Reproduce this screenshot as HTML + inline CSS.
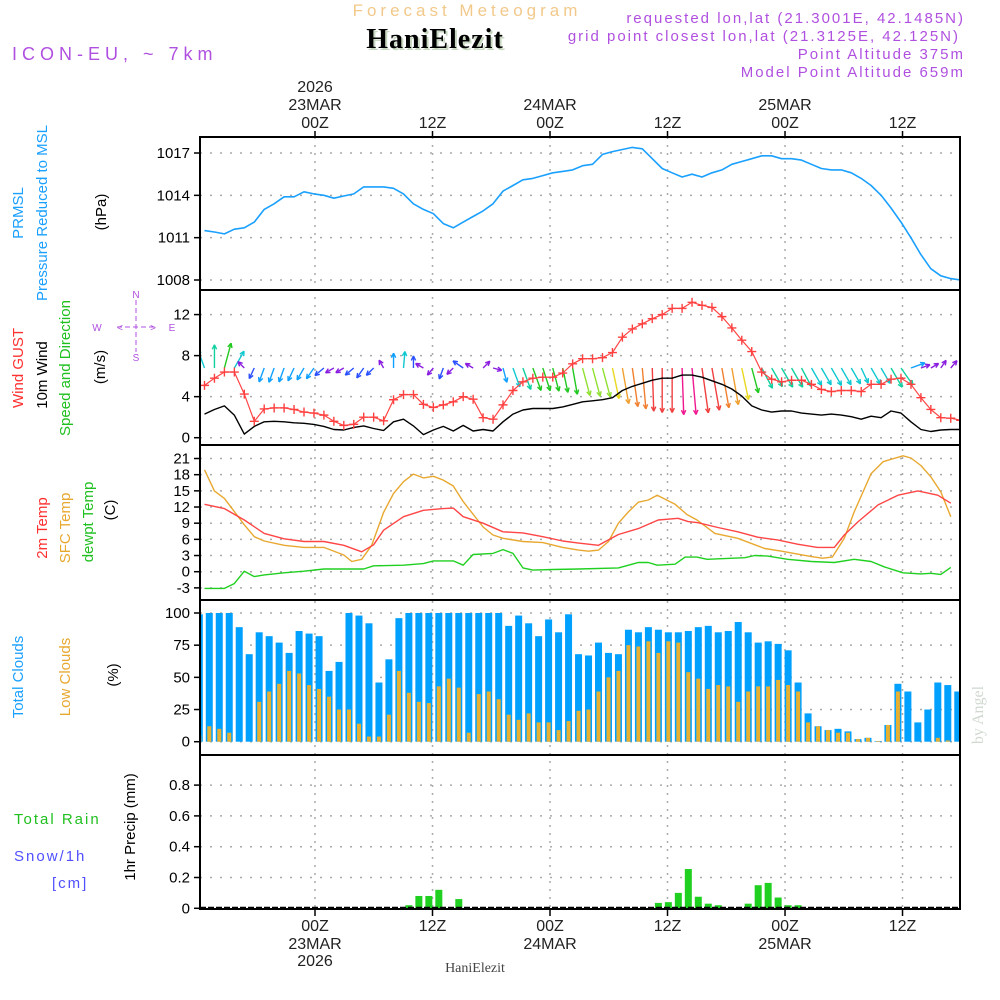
<!DOCTYPE html>
<html><head><meta charset="utf-8"><style>
html,body{margin:0;padding:0;background:#fff;}
svg{display:block;font-family:"Liberation Sans",sans-serif;}
</style></head><body>
<svg id="chart" width="1000" height="1000" viewBox="0 0 1000 1000" xmlns="http://www.w3.org/2000/svg">
<rect x="0" y="0" width="1000" height="1000" fill="#fff"/>
<text x="467" y="16" text-anchor="middle" font-size="17" fill="#f2c98a" letter-spacing="4">Forecast Meteogram</text>
<text x="437" y="50" text-anchor="middle" font-family="Liberation Serif,serif" font-weight="bold" font-size="28" fill="#c8d8c0" letter-spacing="1">HaniElezit</text>
<text x="435" y="48" text-anchor="middle" font-family="Liberation Serif,serif" font-weight="bold" font-size="28" fill="#000" letter-spacing="1">HaniElezit</text>
<g fill="#b050e0" font-size="15" text-anchor="end" letter-spacing="2">
<text x="965" y="23">requested lon,lat (21.3001E, 42.1485N)</text>
<text x="960" y="41">grid point closest lon,lat (21.3125E, 42.125N)</text>
<text x="965" y="59">Point Altitude 375m</text>
<text x="965" y="77">Model Point Altitude 659m</text>
</g>
<text x="12" y="60" font-size="18" fill="#b050e0" letter-spacing="5">ICON-EU, ~ 7km</text>
<text transform="translate(983,715) rotate(-90)" text-anchor="middle" font-family="Liberation Serif,serif" font-size="16" fill="#d0d8d0">by Angel</text>
<text x="475" y="972" text-anchor="middle" font-family="Liberation Serif,serif" font-size="14" fill="#444">HaniElezit</text>

<g id="grid"></g>
<g id="marks"></g>
<g id="axes"></g>

<g font-size="15">
<text transform="translate(23,213) rotate(-90)" text-anchor="middle" fill="#1aa0ff">PRMSL</text>
<text transform="translate(47,213) rotate(-90)" text-anchor="middle" fill="#1aa0ff">Pressure Reduced to MSL</text>
<text transform="translate(106,212) rotate(-90)" text-anchor="middle" fill="#000">(hPa)</text>
<text transform="translate(23,368) rotate(-90)" text-anchor="middle" fill="#ff3030">Wind GUST</text>
<text transform="translate(47,375) rotate(-90)" text-anchor="middle" fill="#000">10m Wind</text>
<text transform="translate(70,368) rotate(-90)" text-anchor="middle" fill="#20c020">Speed and Direction</text>
<text transform="translate(105,367) rotate(-90)" text-anchor="middle" fill="#000">(m/s)</text>
<text transform="translate(47,528) rotate(-90)" text-anchor="middle" fill="#ff3030">2m Temp</text>
<text transform="translate(70,528) rotate(-90)" text-anchor="middle" fill="#e8a830">SFC Temp</text>
<text transform="translate(93,522) rotate(-90)" text-anchor="middle" fill="#20c020">dewpt Temp</text>
<text transform="translate(115,510) rotate(-90)" text-anchor="middle" fill="#000">(C)</text>
<text transform="translate(23,677) rotate(-90)" text-anchor="middle" fill="#1aa0ff">Total Clouds</text>
<text transform="translate(70,677) rotate(-90)" text-anchor="middle" fill="#e8a830">Low Clouds</text>
<text transform="translate(118,675) rotate(-90)" text-anchor="middle" fill="#000">(%)</text>
<text transform="translate(135,827) rotate(-90)" text-anchor="middle" fill="#000">1hr Precip (mm)</text>
<text x="14" y="824" fill="#20c020" letter-spacing="2">Total   Rain</text>
<text x="14" y="861" fill="#5050ff" letter-spacing="2">Snow/1h</text>
<text x="52" y="888" fill="#5050ff" letter-spacing="2">[cm]</text>
</g>
<g fill="#b050e0" stroke="#b050e0" font-size="10">
<line x1="117" y1="327" x2="155" y2="327" stroke-width="1" stroke-dasharray="5 3"/>
<line x1="136" y1="300" x2="136" y2="352" stroke-width="1" stroke-dasharray="5 3"/>
<text stroke="none" x="136" y="298" text-anchor="middle">N</text>
<text stroke="none" x="136" y="361" text-anchor="middle">S</text>
<text stroke="none" x="97" y="331" text-anchor="middle">W</text>
<text stroke="none" x="172" y="331" text-anchor="middle">E</text>
<text stroke="none" x="120" y="331" text-anchor="middle">&lt;</text>
<text stroke="none" x="153" y="331" text-anchor="middle">&gt;</text>
</g>
</svg>
<script>
// ---------- data ----------
const pressure = [1011.5,1011.4,1011.27,1011.6,1011.7,1012.1,1013.0,1013.4,1013.9,1013.9,1014.25,1014.1,1014.0,1013.8,1013.95,1014.1,1014.6,1014.6,1014.6,1014.5,1014.1,1013.4,1013.0,1012.7,1012.0,1011.7,1012.1,1012.5,1012.9,1013.4,1014.3,1014.7,1015.1,1015.2,1015.4,1015.6,1015.7,1015.8,1016.1,1016.2,1016.9,1017.1,1017.25,1017.4,1017.3,1016.6,1015.9,1015.6,1015.3,1015.5,1015.3,1015.6,1015.8,1016.2,1016.4,1016.6,1016.8,1016.8,1016.6,1016.6,1016.5,1016.2,1015.9,1015.8,1015.8,1015.6,1015.2,1014.7,1014.0,1013.1,1012.1,1011.0,1009.8,1008.8,1008.3,1008.1,1008.0];
const gust = [5.1,5.8,6.4,6.4,4.25,1.6,2.8,2.9,2.9,2.75,2.5,2.4,2.2,1.6,1.2,1.3,2.0,2.0,1.65,3.7,4.2,4.2,3.25,2.95,3.2,3.5,4.0,3.75,1.95,1.8,3.2,4.6,5.45,5.8,5.9,5.9,6.3,7.2,7.7,7.7,7.8,8.3,9.8,10.6,11.1,11.6,12.0,12.6,12.6,13.2,12.9,12.7,11.8,10.7,9.5,8.4,6.4,5.7,5.45,5.6,5.6,5.2,4.7,4.5,4.6,4.6,4.5,5.2,5.2,5.7,5.8,5.2,3.9,2.75,1.95,1.9,1.7];
const wind10m = [2.3,2.75,3.1,2.2,0.35,1.1,1.55,1.6,1.55,1.45,1.4,1.3,1.1,0.8,0.75,1.0,1.15,0.9,0.7,1.55,1.8,1.15,0.3,0.75,1.1,0.65,1.2,0.65,0.8,0.65,1.55,2.3,2.7,2.85,2.85,2.85,3.0,3.25,3.5,3.6,3.7,3.9,4.6,5.0,5.3,5.6,5.8,5.8,6.1,6.1,5.9,5.55,5.2,4.75,4.05,3.1,2.7,2.5,2.6,2.6,2.4,2.3,2.2,2.3,2.2,2.05,1.8,2.1,1.95,2.6,2.4,1.55,0.8,0.6,0.75,0.8,0.8];
const windDir = [340,0,15,30,315,205,200,200,200,205,210,215,230,240,240,230,215,225,330,0,5,0,300,220,200,225,305,300,45,105,165,160,160,160,162,165,168,170,165,165,165,168,170,172,175,178,180,180,178,175,172,170,170,170,168,165,152,150,150,150,152,150,150,150,150,150,155,150,150,150,145,70,70,60,35,40,130];
const t2mHours = [0,2,4,6,8,10,12,14,15.8,17,18,20,22,24,25,26,28,30,32,34,36,37.6,39.6,41.6,43.6,45.6,47.6,48.6,49.6,51.6,53.6,55.6,57.6,59.6,61.6,63.3,64.3,65.7,67.7,69.7,71.7,73.7,75];
const t2m = [12.5,11.7,9.6,7.1,6.1,5.6,5.6,4.9,3.7,5.0,7.7,10.2,11.4,11.7,11.8,10.2,9.0,7.4,7.2,6.5,5.7,5.3,4.9,6.9,8.0,9.6,9.9,9.3,9.1,8.2,7.4,6.4,5.9,5.1,4.5,4.5,6.8,9.3,12.4,14.2,15.0,14.2,12.7];
const sfcHours = [0,1,2,4,5,6,8,10,12,14,14.8,15.8,16.8,18,19,20,21,22,23,24,25,26,28,29,30,32,34,36,37.6,38.6,39.6,40.6,41.6,42.6,43.6,44.6,45.5,47.3,48.5,49.5,51.3,53.6,56.3,58,61,62.1,63.1,64.3,65.3,67,68.2,70.2,71,72,73,74,75];
const sfcTemp = [18.9,15,13.6,8.7,6.5,5.7,4.9,4.5,4.5,3.1,1.9,2.3,4.9,11,14.5,16.7,18.1,17.4,17.7,17.0,15.9,13.0,8.3,6.8,6.2,5.6,5.4,4.5,4.0,3.8,4.0,5.6,9.0,11.1,12.9,13.3,14.2,12.5,10.6,9.6,7.1,6.2,4.3,3.8,2.8,2.5,2.7,6.2,11.1,18.2,20.4,21.5,21.1,19.7,17.6,14.8,10.2];
const dewHours = [0,2,3,4,5,6,8,10,12,16,17,20,22,23,25,26,27,29,30,31,32,33,35,37.6,41.6,43.6,44.6,45.5,47.3,48.3,49.5,50.5,54.3,55.3,56.6,58.6,61,63.3,65.3,67,68.3,70.2,72,73,74,75];
const dewpt = [-3.1,-3.1,-2.2,0.1,-0.9,-0.6,-0.2,0.1,0.5,0.5,1.1,1.2,1.5,2.0,2.0,1.2,3.2,3.4,4.1,3.4,0.7,0.3,0.4,0.5,0.7,1.7,1.7,1.2,1.4,2.7,2.7,2.3,2.6,3.0,2.9,2.3,1.9,1.7,2.3,1.9,0.9,-0.2,-0.4,-0.3,-0.5,0.8];
const totalClouds = [99,100,100,100,89,68,85,82,77,69,86,84,82,55,62,100,98,92,46,64,96,100,100,100,100,100,100,100,100,100,100,90,98,92,82,95,85,99,68,67,77,69,68,87,85,89,87,85,85,86,89,90,85,86,93,85,77,78,76,71,46,22,12,9,10,8,2,3,0.5,13,45,39,15,25,46,44,39];
const lowClouds = [5,12,10,7,0,0,31,39,45,55,53,44,41,35,25,25,14,4,4,21,55,38,31,30,43,49,42,7,37,39,33,21,17,22,15,15,9,16,24,25,39,50,55,75,74,78,69,78,77,54,49,41,44,43,31,39,43,43,48,44,39,15,12,9,7,7,2,3,0.5,13,39,0,0,0,3,1,0];
const precip = [0,0,0,0,0,0,0,0,0,0,0,0,0,0,0,0,0,0,0,0,0,0.02,0.08,0.08,0.12,0,0.06,0,0,0,0,0,0,0,0,0,0,0,0,0,0,0,0,0,0,0,0.035,0.04,0.10,0.255,0.075,0.03,0.02,0,0,0.03,0.15,0.165,0.07,0.02,0.02,0,0,0,0,0,0,0,0,0,0,0,0,0,0,0,0];
const timeTickHours = [0,12,24,36,48,60];
const timeTickLabels = ["00Z","12Z","00Z","12Z","00Z","12Z"];
const dateLabels = ["23MAR","","24MAR","","25MAR",""];
const pressTicks = [1008,1011,1014,1017];
const windTicks = [0,4,8,12];
const tempTicks = [-3,0,3,6,9,12,15,18,21];
const cloudTicks = [0,25,50,75,100];
const precipTicks = [0,0.2,0.4,0.6,0.8];
const precipTickLabels = ["0","0.2","0.4","0.6","0.8"];

// ---------- scales ----------
const L=200,R=960;
const xt = k => 204.5 + 9.95*k;
const xb = i => 199.3 + 9.98*i;
const xg = h => 315 + h*9.792;
const yP = p => 280 - (p-1008)*14.11;
const yW = v => 437.7 - v*10.26;
const yT = t => 571.7 - t*5.39;
const yC = c => 741.7 - c*1.287;
const yR = r => 908.3 - r*154;
const panels=[[137,290],[290,445],[445,600],[600,755],[755,909]];
const NS="http://www.w3.org/2000/svg";
const grid=document.getElementById('grid'), marks=document.getElementById('marks'), axes=document.getElementById('axes');
function mk(tag, attrs, parent){const e=document.createElementNS(NS,tag);for(const k in attrs)e.setAttribute(k,attrs[k]);parent.appendChild(e);return e;}

const defs=mk('defs',{},document.getElementById('chart'));
const cp=mk('clipPath',{id:'plotclip'},defs);
mk('rect',{x:L,y:137,width:R-L,height:772},cp);
marks.setAttribute('clip-path','url(#plotclip)');

// ---------- grid ----------
timeTickHours.forEach(h=>{
  const l=mk('line',{x1:xg(h),x2:xg(h),y1:137,y2:909,stroke:'#aaa','stroke-width':1.5,'stroke-dasharray':'2 6'},grid);
  
  
});
function hgrid(ticks, yf, name){
  ticks.forEach(v=>{
    const l=mk('line',{x1:L,x2:R,y1:yf(v),y2:yf(v),stroke:'#aaa','stroke-width':1.5,'stroke-dasharray':'2 8'},grid);
    
    
  });
}
hgrid(pressTicks,yP,'pressure-gridline');
hgrid(windTicks,yW,'wind-gridline');
hgrid(tempTicks,yT,'temp-gridline');
hgrid(cloudTicks,yC,'cloud-gridline');
hgrid(precipTicks.slice(1),yR,'precip-gridline');

// ---------- marks ----------
function poly(xs, ys, color, width, name){
  const pts=xs.map((x,i)=>x.toFixed(1)+','+ys[i].toFixed(1)).join(' ');
  const p=mk('polyline',{points:pts,fill:'none',stroke:color,'stroke-width':width,'stroke-linejoin':'round'},marks);
  
  
  return p;
}
poly(pressure.map((v,k)=>xt(k)), pressure.map(yP), '#1aa0ff', 1.6, 'pressure-line');

function windColor(v){
  const stops=[[0.9,'#8a1ee0'],[1.3,'#2a50ff'],[1.8,'#10a0ff'],[2.4,'#10c8d0'],[2.8,'#10d0a0'],[3.4,'#20c820'],[3.9,'#90e030'],[4.3,'#e8d820'],[5.0,'#f0a030'],[5.5,'#f08030'],[5.95,'#f04040']];
  for(const s of stops) if(v<s[0]) return s[1];
  return '#f01890';
}
windDir.forEach((d,k)=>{
  const v=wind10m[k];
  const len=Math.max(9,4+7.0*v);
  const a=d*Math.PI/180;
  const x0=xt(k), y0=368;
  const x1=x0+Math.sin(a)*len, y1=y0-Math.cos(a)*len;
  const c=windColor(v);
  const g=mk('g',{stroke:c,'stroke-width':1.4,fill:'none'},marks);
  
  
  mk('line',{x1:x0,y1:y0,x2:x1,y2:y1},g);
  const hl=5, ha=0.45;
  const bx=-Math.sin(a), by=Math.cos(a);
  [ha,-ha].forEach(s=>{
    const cs=Math.cos(s), sn=Math.sin(s);
    const rx=bx*cs-by*sn, ry=bx*sn+by*cs;
    mk('line',{x1:x1,y1:y1,x2:x1+rx*hl,y2:y1+ry*hl},g);
  });
});
poly(wind10m.map((v,k)=>xt(k)), wind10m.map(yW), '#000', 1.4, 'wind10m-line');
poly(gust.map((v,k)=>xt(k)), gust.map(yW), '#ff4545', 1.2, 'gust-line');
gust.forEach((v,k)=>{
  const x=xt(k), y=yW(v);
  const p=mk('path',{d:`M${x-4.5},${y}H${x+4.5}M${x},${y-4.5}V${y+4.5}`,stroke:'#ff4040','stroke-width':1.4},marks);
  
  
});

poly(sfcHours.map(xt), sfcTemp.map(yT), '#e8a830', 1.4, 'sfc-temp-line');
poly(t2mHours.map(xt), t2m.map(yT), '#ff4545', 1.4, 't2m-line');
poly(dewHours.map(xt), dewpt.map(yT), '#20d020', 1.4, 'dewpt-line');

totalClouds.forEach((v,i)=>{
  const r=mk('rect',{x:xb(i)-3.5,y:yC(v),width:7,height:yC(0)-yC(v),fill:'#00a0ff'},marks);
  
  
});
lowClouds.forEach((v,i)=>{
  const r=mk('rect',{x:xb(i)-2,y:yC(v),width:4,height:yC(0)-yC(v),fill:'#e8b030'},marks);
  
  
});

precip.forEach((v,i)=>{
  if(v<=0) return;
  const r=mk('rect',{x:xb(i)-3.5,y:yR(v),width:7,height:yR(0)-yR(v),fill:'#20d020'},marks);
  
  
});
const zl=mk('line',{x1:L,x2:R,y1:907.5,y2:907.5,stroke:'#000','stroke-width':1.5,'stroke-dasharray':'6 2'},marks);



// ---------- axes ----------
panels.forEach((p,i)=>{
  const r=mk('rect',{x:L,y:p[0],width:R-L,height:p[1]-p[0],fill:'none',stroke:'#000','stroke-width':2},axes);
  
  
});
function yAxis(ticks, labels, yf, name){
  ticks.forEach((v,i)=>{
    const y=yf(v);
    const t=mk('line',{x1:L-6,x2:L,y1:y,y2:y,stroke:'#000','stroke-width':1.5},axes);
    
    
    const tx=mk('text',{x:L-10,y:y+5,'text-anchor':'end','font-size':15,fill:'#000'},axes);
    
    
    tx.textContent=labels[i];
  });
}
yAxis(pressTicks,pressTicks.map(String),yP,'pressure-axis');
yAxis(windTicks,windTicks.map(String),yW,'wind-axis');
yAxis(tempTicks,tempTicks.map(String),yT,'temp-axis');
yAxis(cloudTicks,cloudTicks.map(String),yC,'cloud-axis');
yAxis(precipTicks,precipTickLabels,yR,'precip-axis');

timeTickHours.forEach((h,i)=>{
  const x=xg(h);
  const t1=mk('line',{x1:x,x2:x,y1:131,y2:137,stroke:'#000','stroke-width':1.5},axes);
  
  
  const t2=mk('line',{x1:x,x2:x,y1:909,y2:916,stroke:'#000','stroke-width':1.5},axes);
  
  
  const a=mk('text',{x:x,y:128,'text-anchor':'middle','font-size':16,fill:'#222'},axes);
  
  
  a.textContent=timeTickLabels[i];
  const b=mk('text',{x:x,y:931,'text-anchor':'middle','font-size':16,fill:'#222'},axes);
  
  
  b.textContent=timeTickLabels[i];
  if(dateLabels[i]){
    const c=mk('text',{x:x,y:110,'text-anchor':'middle','font-size':16,fill:'#222'},axes);
    
    
    c.textContent=dateLabels[i];
    const d=mk('text',{x:x,y:949,'text-anchor':'middle','font-size':16,fill:'#222'},axes);
    
    
    d.textContent=dateLabels[i];
  }
  if(i===0){
    const e=mk('text',{x:x,y:92,'text-anchor':'middle','font-size':16,fill:'#222'},axes);
    
    
    e.textContent='2026';
    const f=mk('text',{x:x,y:966,'text-anchor':'middle','font-size':16,fill:'#222'},axes);
    
    
    f.textContent='2026';
  }
});
</script>
</body></html>
